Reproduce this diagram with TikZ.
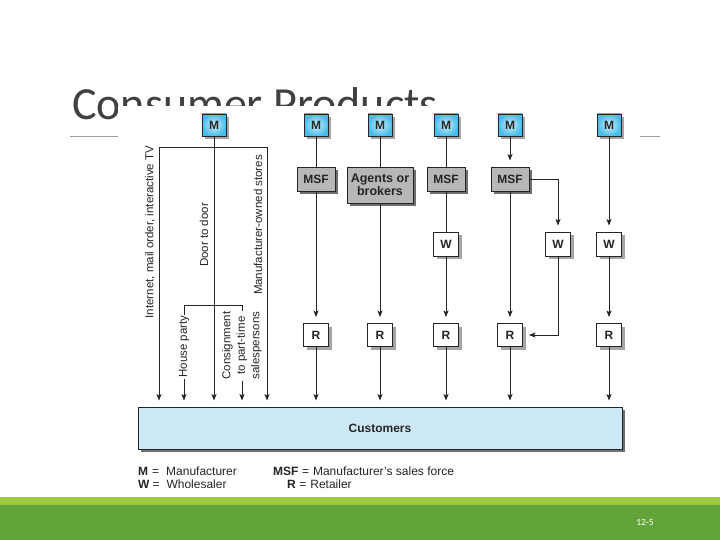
\documentclass[tikz,border=0pt]{standalone}
\usepackage{fontspec}
\setmainfont{Liberation Sans}
\newfontfamily\titlefont{Carlito}
\usetikzlibrary{arrows.meta,shadows}
\definecolor{mcyan}{HTML}{45BDEA}
\definecolor{boxgray}{HTML}{B7B7B7}
\definecolor{custblue}{HTML}{CDE9F8}
\definecolor{ink}{HTML}{252525}
\definecolor{lgreen}{HTML}{9DC843}
\definecolor{dgreen}{HTML}{62A43A}
\definecolor{titlegray}{HTML}{404040}
\definecolor{rulegray}{HTML}{A0A0A0}
\definecolor{shdark}{HTML}{707070}
\definecolor{shlight}{HTML}{A5A5A5}
\tikzset{
  base/.style={draw=ink, line width=0.9pt, inner sep=0pt, text=ink,
    font=\fontsize{12}{13}\selectfont\bfseries},
  mbox/.style={base, minimum width=24pt, minimum height=22pt,
    inner color=mcyan!25!white, outer color=mcyan,
    drop shadow={shadow xshift=3pt, shadow yshift=-3pt, fill=shlight, opacity=1}},
  gbox/.style={base, fill=boxgray, minimum width=38pt, minimum height=24pt,
    drop shadow={shadow xshift=3pt, shadow yshift=-3pt, fill=shdark, opacity=1}},
  wbox/.style={base, fill=white, minimum width=25pt, minimum height=24pt,
    drop shadow={shadow xshift=3pt, shadow yshift=-3pt, fill=shlight, opacity=1}},
  custbox/.style={base, fill=custblue, minimum width=484pt, minimum height=42pt,
    drop shadow={shadow xshift=3pt, shadow yshift=-3pt, fill=shdark, opacity=1}},
  ln/.style={draw=ink, line width=0.8pt},
  arr/.style={-{Stealth[length=6.5pt,width=5pt,inset=1.5pt]}, shorten >=6pt},
  lbl/.style={font=\fontsize{11.5}{14.5}\selectfont, text=ink, rotate=90, inner sep=1pt, align=center},
  leg/.style={font=\fontsize{12}{13}\selectfont, text=ink, inner sep=0pt, anchor=base west}
}
\begin{document}
\begin{tikzpicture}[x=1pt,y=-1pt]
\useasboundingbox (0,0) rectangle (720,540);
\fill[white] (0,0) rectangle (720,540);
% title and rules
\node[anchor=base west, inner sep=0pt, text=titlegray,
  font=\titlefont\fontsize{46}{50}\selectfont] (title) at (72,120) {Consumer Products};
\draw[rulegray, line width=0.8pt] (70,136) -- (119,136);
\draw[rulegray, line width=0.8pt] (640,136) -- (660,136);
\fill[white] (118,106) rectangle (639,495);
% footer
\fill[lgreen] (0,497) rectangle (720,505);
\fill[dgreen] (0,505) rectangle (720,540);
\node[text=white, font=\titlefont\fontsize{9.5}{11}\selectfont] (pg) at (645,522) {12-5};
% manufacturers
\node[mbox] (M0) at (214,125) {M};
\node[mbox] (M1) at (316,125) {M};
\node[mbox] (M2) at (380,125) {M};
\node[mbox] (M3) at (446,125) {M};
\node[mbox] (M4) at (510,125) {M};
\node[mbox] (M5) at (609,125) {M};
% middle level
\node[gbox] (S1) at (316,179) {MSF};
\node[gbox, minimum width=66pt, minimum height=36pt, align=center,
  font=\fontsize{12.5}{13.5}\selectfont\bfseries] (AG) at (380,185) {Agents or\\brokers};
\node[gbox] (S3) at (446,179) {MSF};
\node[gbox] (S4) at (510,179) {MSF};
\node[wbox] (W3) at (446,244) {W};
\node[wbox] (W4) at (558,244) {W};
\node[wbox] (W5) at (609,244) {W};
% retailers
\node[wbox, minimum height=23pt] (R1) at (316,335) {R};
\node[wbox, minimum height=23pt] (R2) at (380,335) {R};
\node[wbox, minimum height=23pt] (R3) at (446,335) {R};
\node[wbox, minimum height=23pt] (R4) at (510,335) {R};
\node[wbox, minimum height=23pt] (R5) at (609,335) {R};
% customers
\node[custbox] (CU) at (380,428) {Customers};
% direct channels
\coordinate (tl) at (159,147);
\coordinate (tr) at (267,147);
\coordinate (bl) at (184,305);
\coordinate (br) at (242,305);
\draw[ln] (tl) -- (tr);
\draw[ln, arr] (tl) -- (tl |- CU.north);
\draw[ln, arr] (tr) -- (tr |- CU.north);
\draw[ln, arr] (M0) -- (M0 |- CU.north);
\draw[ln] (bl) -- (br);
\draw[ln, arr] (bl) -- node[lbl, fill=white, pos=0.41] (hp) {House party} (bl |- CU.north);
\draw[ln, arr] (br) -- node[lbl, fill=white, pos=0.40] (cs) {Consignment\\to part-time\\salespersons} (br |- CU.north);
\node[lbl] (int) at (150,232) {Internet, mail order, interactive TV};
\node[lbl] (dtd) at (204,235) {Door to door};
\node[lbl] (mos) at (258,225) {Manufacturer-owned stores};
% column 1
\draw[ln] (M1) -- (S1);
\draw[ln, arr] (S1) -- (R1);
\draw[ln, arr] (R1) -- (R1 |- CU.north);
% column 2
\draw[ln] (M2) -- (AG);
\draw[ln, arr] (AG) -- (R2);
\draw[ln, arr] (R2) -- (R2 |- CU.north);
% column 3
\draw[ln] (M3) -- (S3);
\draw[ln] (S3) -- (W3);
\draw[ln, arr] (W3) -- (R3);
\draw[ln, arr] (R3) -- (R3 |- CU.north);
% column 4
\draw[ln, arr] (M4) -- (S4);
\draw[ln, arr] (S4) -- (R4);
\draw[ln, arr] (S4.east) -| (W4);
\draw[ln, arr] (W4) |- (R4);
\draw[ln, arr] (R4) -- (R4 |- CU.north);
% column 5
\draw[ln, arr] (M5) -- (W5);
\draw[ln, arr] (W5) -- (R5);
\draw[ln, arr] (R5) -- (R5 |- CU.north);
% legend
\node[leg] (lg1) at (138,475) {\textbf{M}\hspace{4pt}=\hspace{7pt}Manufacturer};
\node[leg] (lg2) at (138,488) {\textbf{W}\hspace{3pt}=\hspace{7pt}Wholesaler};
\node[leg] (lg3) at (273,475) {\textbf{MSF}\hspace{3.5pt}=\hspace{4pt}Manufacturer's sales force};
\node[leg] (lg4) at (287,488) {\textbf{R}\hspace{3.5pt}=\hspace{4pt}Retailer};
\end{tikzpicture}
\end{document}
